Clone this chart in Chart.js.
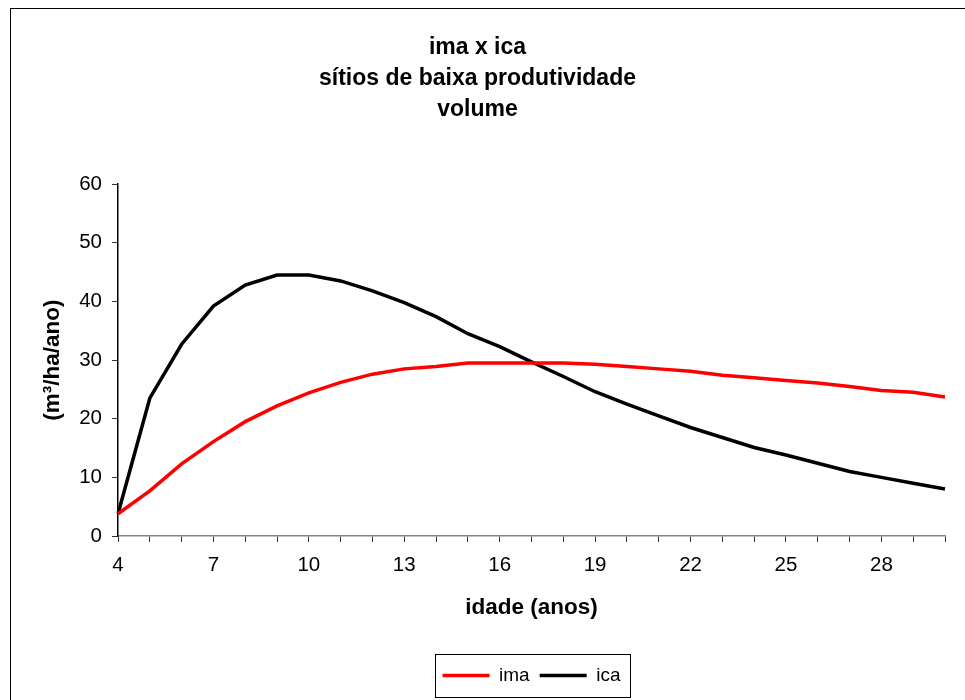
<!DOCTYPE html>
<html>
<head>
<meta charset="utf-8">
<script src="https://cdn.jsdelivr.net/npm/chart.js@4"></script>
<style>
  body{margin:0;background:#fff;}
  #wrap{position:absolute;left:0;top:0;width:965px;height:700px;}
</style>
</head>
<body>
<div id="wrap"><canvas id="myChart" width="965" height="700"></canvas></div>
<script>
const idade = [4,5,6,7,8,9,10,11,12,13,14,15,16,17,18,19,20,21,22,23,24,25,26,27,28,29,30];
const ima = [3.8,7.7,12.3,16.1,19.5,22.2,24.4,26.2,27.6,28.5,28.9,29.5,29.5,29.5,29.5,29.3,28.9,28.5,28.1,27.4,27.0,26.5,26.1,25.5,24.8,24.5,23.7];
const ica = [3.8,23.5,32.7,39.2,42.8,44.5,44.5,43.5,41.8,39.8,37.4,34.5,32.3,29.7,27.2,24.6,22.5,20.5,18.5,16.8,15.1,13.8,12.4,11.0,10.0,9.0,8.0];
const xLabels = [4,7,10,13,16,19,22,25,28];
const titulo = ['ima x ica','sítios de baixa produtividade','volume'];

Chart.defaults.font.family = '"Liberation Sans", Arial, sans-serif';
Chart.defaults.color = '#000';

// moldura do grafico e caixa da legenda
const moldura = {
    id:'moldura',
    beforeDraw(chart){
        const ctx = chart.ctx;
        ctx.save();
        ctx.strokeStyle = '#000';
        ctx.lineWidth = 1;
        ctx.strokeRect(10.5, 8.5, 1000, 1000);
        ctx.restore();
    },
    afterDraw(chart){
        const boxes = chart.legend.legendHitBoxes;
        if(!boxes || !boxes.length) return;
        const first = boxes[0], last = boxes[boxes.length-1];
        const cy = first.top + first.height/2;
        const x0 = Math.round(first.left - 8);
        const ctx = chart.ctx;
        ctx.save();
        ctx.strokeStyle = '#000';
        ctx.lineWidth = 1;
        ctx.strokeRect(x0 + 0.5, Math.round(cy - 21.5) + 0.5,
            Math.round(last.left + last.width + 10 - x0), 43);
        ctx.restore();
    }
};

const ctx = document.querySelector("#myChart");
var myChart = new Chart(ctx, {
    type:'line',
    data:{
        labels: idade,
        datasets:[{
            label:'ima',
            data: ima,
            borderColor:'#ff0000',
            backgroundColor:'#ff0000',
            borderWidth:3.5,
            pointRadius:0,
            pointStyle:'line',
            tension:0
        },{
            label:'ica',
            data: ica,
            borderColor:'#000000',
            backgroundColor:'#000000',
            borderWidth:3.5,
            pointRadius:0,
            pointStyle:'line',
            tension:0
        }]
    },
    options:{
        responsive:false,
        animation:false,
        layout:{ padding:{ top:10, left:10, right:20, bottom:5 } },
        plugins:{
            title:{
                display:true,
                text: titulo,
                font:{ size:23, weight:'bold', lineHeight:1.35 },
                color:'#000',
                padding:{ top:22, bottom:59 }
            },
            legend:{
                position:'bottom',
                fullSize:false,
                labels:{
                    usePointStyle:true,
                    pointStyleWidth:47,
                    padding:10,
                    color:'#000',
                    font:{ size:19 }
                }
            },
            tooltip:{ enabled:false }
        },
        scales:{
            x:{
                offset:false,
                grid:{ drawOnChartArea:false, drawTicks:true, tickLength:6, color:'#333' },
                border:{ color:'#888', width:1.5 },
                ticks:{
                    autoSkip:false, maxRotation:0, padding:11,
                    font:{ size:20.5 },
                    callback:function(v, i){
                        const lab = idade[i];
                        return xLabels.includes(lab) ? String(lab) : '';
                    }
                },
                title:{
                    display:true,
                    text:'idade (anos)',
                    font:{ size:22.5, weight:'bold' },
                    padding:{ top:0, bottom:35 }
                },
                afterFit:function(scale){ scale.height = 120; }
            },
            y:{
                min:0, max:60,
                grid:{ drawOnChartArea:false, drawTicks:true, tickLength:6, color:'#333' },
                border:{ color:'#000', width:1.5 },
                ticks:{ stepSize:10, padding:10, font:{ size:20.5 } },
                title:{
                    display:true,
                    text:'(m³/ha/ano)',
                    font:{ size:22.5, weight:'bold' },
                    padding:{ top:29, bottom:0 }
                },
                afterFit:function(scale){ scale.width = 108; }
            }
        }
    },
    plugins:[moldura]
});
</script>
</body>
</html>
